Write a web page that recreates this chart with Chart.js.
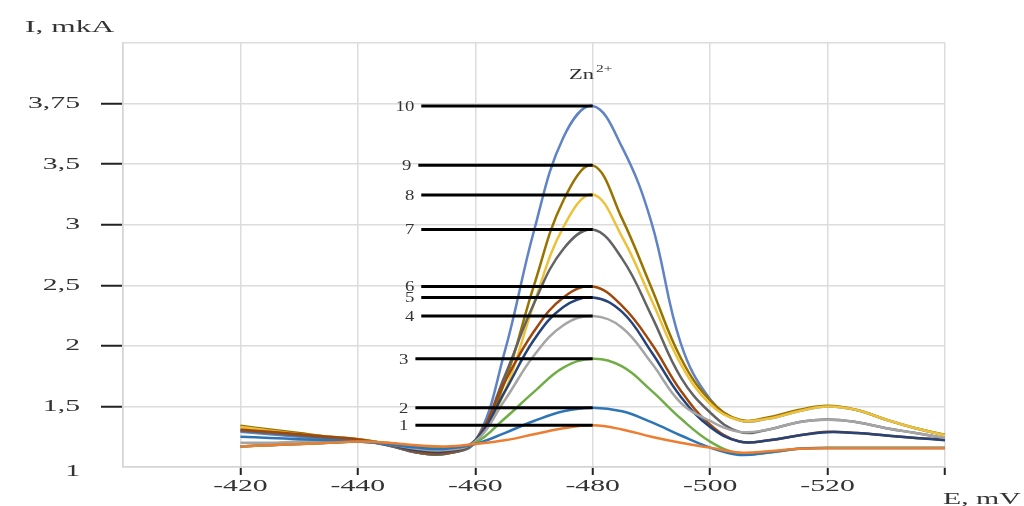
<!DOCTYPE html>
<html>
<head>
<meta charset="utf-8">
<script src="https://cdn.jsdelivr.net/npm/chart.js@4"></script>
<style>
html, body { margin: 0; padding: 0; background: #fff; }
</style>
</head>
<body>
<canvas id="chart" width="1024" height="506"></canvas>
<script>
// potentials, mV
const potentials = [-420, -425, -430, -435, -440, -445, -450, -455, -460, -465, -470, -475, -480,
	-485, -490, -495, -500, -505, -510, -515, -520, -525, -530, -535, -540];

// current curves 1..10 (in axis units, see y tick labels)
const curve1 = [1.17, 1.18, 1.19, 1.20, 1.21, 1.20, 1.18, 1.17, 1.19, 1.22, 1.27, 1.32, 1.344, 1.31, 1.25, 1.20, 1.16, 1.12, 1.13, 1.15, 1.155, 1.155, 1.155, 1.155, 1.155];
const curve2 = [1.25, 1.24, 1.23, 1.22, 1.21, 1.19, 1.16, 1.15, 1.19, 1.28, 1.38, 1.46, 1.49, 1.46, 1.37, 1.26, 1.16, 1.10, 1.12, 1.15, 1.157, 1.157, 1.157, 1.157, 1.157];
const curve3 = [1.17, 1.18, 1.19, 1.20, 1.21, 1.20, 1.17, 1.16, 1.20, 1.40, 1.62, 1.82, 1.893, 1.83, 1.63, 1.40, 1.21, 1.11, 1.12, 1.15, 1.158, 1.158, 1.158, 1.158, 1.158];
const curve4 = [1.20, 1.20, 1.21, 1.21, 1.21, 1.19, 1.15, 1.14, 1.21, 1.55, 1.92, 2.17, 2.246, 2.15, 1.86, 1.53, 1.38, 1.29, 1.31, 1.37, 1.39, 1.37, 1.32, 1.28, 1.24];
const curve5 = [1.17, 1.18, 1.19, 1.20, 1.21, 1.19, 1.14, 1.13, 1.22, 1.62, 2.05, 2.32, 2.40, 2.28, 1.95, 1.58, 1.33, 1.21, 1.22, 1.26, 1.287, 1.28, 1.26, 1.24, 1.221];
const curve6 = [1.31, 1.29, 1.27, 1.25, 1.23, 1.19, 1.13, 1.12, 1.22, 1.70, 2.12, 2.40, 2.49, 2.33, 2.02, 1.63, 1.35, 1.21, 1.22, 1.26, 1.29, 1.28, 1.26, 1.24, 1.225];
const curve7 = [1.30, 1.28, 1.26, 1.24, 1.22, 1.18, 1.12, 1.11, 1.21, 1.75, 2.35, 2.80, 2.96, 2.72, 2.25, 1.74, 1.45, 1.29, 1.31, 1.37, 1.393, 1.37, 1.32, 1.28, 1.238];
const curve8 = [1.33, 1.30, 1.27, 1.25, 1.23, 1.19, 1.13, 1.12, 1.21, 1.62, 2.35, 2.98, 3.25, 2.90, 2.38, 1.85, 1.52, 1.385, 1.40, 1.46, 1.50, 1.47, 1.39, 1.32, 1.262];
const curve9 = [1.34, 1.31, 1.28, 1.25, 1.23, 1.19, 1.12, 1.11, 1.21, 1.70, 2.50, 3.20, 3.49, 3.05, 2.48, 1.90, 1.55, 1.39, 1.41, 1.47, 1.505, 1.47, 1.39, 1.32, 1.265];
const curve10 = [1.29, 1.27, 1.25, 1.23, 1.22, 1.18, 1.12, 1.11, 1.21, 1.95, 2.95, 3.72, 3.98, 3.64, 3.02, 2.02, 1.56, 1.385, 1.40, 1.46, 1.50, 1.47, 1.39, 1.32, 1.262];

const curves = [curve1, curve2, curve3, curve4, curve5, curve6, curve7, curve8, curve9, curve10];
const curveColors = ['#ED7D31', '#2E75B6', '#70AD47', '#A5A5A5', '#264478', '#9E480E', '#636363', '#EDC23A', '#997300', '#5F83C4'];

// peak marker lines 1..10
const peakLevels = [1.344, 1.49, 1.893, 2.246, 2.40, 2.49, 2.96, 3.246, 3.49, 3.98];
const peakLineStart = [-449.8, -449.8, -449.8, -450.8, -450.8, -450.8, -450.8, -450.8, -450.3, -450.8];
const peakLineEnd = -480;

// y axis: equally spaced grid, labels as printed
const yTickValues = [1, 1.5, 2, 2.5, 3, 3.5, 4];
const yTickLabels = ['1', '1,5', '2', '2,5', '3', '3,5', '3,75'];
const xTickLabels = [-420, -440, -460, -480, -500, -520];

const SERIF = '"Liberation Serif", "Times New Roman", serif';

function stretchText(ctx, text, x, y, align, baseline, size, sx) {
	ctx.save();
	ctx.font = size + 'px ' + SERIF;
	ctx.textAlign = align;
	ctx.textBaseline = baseline;
	ctx.translate(x, y);
	ctx.scale(sx, 1);
	ctx.fillText(text, 0, 0);
	ctx.restore();
}

const textPlugin = {
	id: 'texts',
	afterDraw(chart) {
		const ctx = chart.ctx;
		const xs = chart.scales.x;
		const ys = chart.scales.y;
		ctx.save();
		ctx.fillStyle = '#333';
		ys.ticks.forEach((t, i) => {
			if (!t.label) return;
			const dy = t.value === 1 ? 5 : 0;
			stretchText(ctx, t.label, 80, ys.getPixelForTick(i) + dy, 'right', 'middle', 17, 1.75);
		});
		xs.ticks.forEach((t, i) => {
			if (t.label) stretchText(ctx, t.label, xs.getPixelForTick(i), 487, 'center', 'middle', 17, 1.75);
		});
		// peak numbers
		peakLevels.forEach((v, i) => {
			stretchText(ctx, String(i + 1), xs.getPixelForValue(peakLineStart[i]) - 7, ys.getPixelForValue(v) + 1, 'right', 'middle', 15, 1.25);
		});
		// axis titles
		stretchText(ctx, 'I, mkA', 25, 32, 'left', 'alphabetic', 17, 1.85);
		stretchText(ctx, 'E, mV', 943, 504, 'left', 'alphabetic', 17, 1.75);
		// Zn2+
		stretchText(ctx, 'Zn', 569, 79, 'left', 'alphabetic', 15, 1.5);
		stretchText(ctx, '2+', 596, 72, 'left', 'alphabetic', 11, 1.4);
		ctx.restore();
	}
};

const datasets = [];
peakLevels.forEach((v, i) => {
	datasets.push({
		data: [{ x: peakLineStart[i], y: v }, { x: peakLineEnd, y: v }],
		borderColor: '#000',
		borderWidth: 3,
		pointRadius: 0
	});
});
curves.forEach((c, i) => {
	datasets.push({
		data: potentials.map((p, j) => ({ x: p, y: c[j] })),
		borderColor: curveColors[i],
		borderWidth: 2.5,
		pointRadius: 0,
		tension: 0.4
	});
});

new Chart(document.getElementById('chart'), {
	type: 'line',
	data: { datasets: datasets },
	options: {
		responsive: false,
		animation: false,
		layout: { padding: { top: 43, right: 79, left: 0, bottom: 0 } },
		plugins: { legend: { display: false }, tooltip: { enabled: false } },
		scales: {
			x: {
				type: 'linear',
				reverse: true,
				min: -540,
				max: -400,
				afterFit: (s) => { s.height = 39; },
				border: { color: '#d4d4d4', width: 1.5 },
				grid: {
					color: '#dcdcdc',
					lineWidth: 1.5,
					tickLength: 8,
					tickWidth: 2,
					tickColor: (c) => (c.tick && c.tick.value === -400) ? 'rgba(0,0,0,0)' : '#222'
				},
				ticks: {
					display: false,
					stepSize: 20,
					callback: (v) => xTickLabels.includes(v) ? String(v) : ''
				}
			},
			y: {
				type: 'linear',
				min: 1,
				max: 4.5,
				afterFit: (s) => { s.width = 123; },
				border: { color: '#d4d4d4', width: 1.5 },
				grid: {
					color: '#dcdcdc',
					lineWidth: 1.5,
					tickLength: 22,
					tickWidth: 2,
					tickColor: (c) => (c.tick && (c.tick.value === 1 || c.tick.value === 4.5)) ? 'rgba(0,0,0,0)' : '#222'
				},
				ticks: {
					display: false,
					stepSize: 0.5,
					callback: (v) => {
						const k = yTickValues.indexOf(v);
						return k >= 0 ? yTickLabels[k] : '';
					}
				}
			}
		}
	},
	plugins: [textPlugin]
});
</script>
</body>
</html>
